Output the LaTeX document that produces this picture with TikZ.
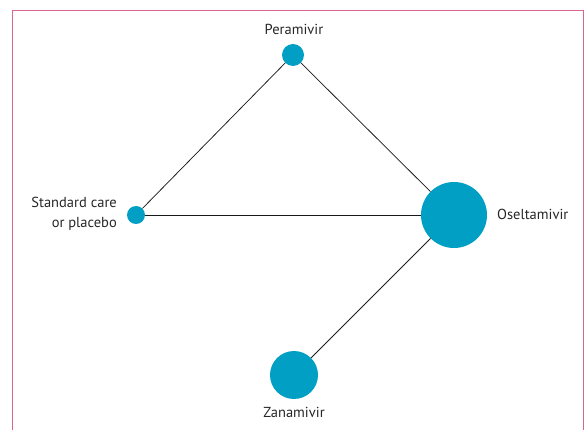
\documentclass[tikz,border=0pt]{standalone}
\usepackage{fontspec}
\setmainfont{PT Sans}
\definecolor{nodeblue}{HTML}{009FC3}
\definecolor{framepink}{HTML}{D8668E}
\begin{document}
\begin{tikzpicture}[x=1pt,y=-1pt,
  dot/.style={circle,fill=nodeblue,draw=none,inner sep=0pt,minimum size=#1},
  lbl/.style={font=\fontsize{14.5}{20}\selectfont,text=black!85,inner sep=0pt},
  edge/.style={draw=black!90,line width=0.75pt}]
\useasboundingbox (0,0) rectangle (587,430);
\draw[framepink,line width=1.4pt] (12.7,432) -- (12.7,10.5) -- (583.7,10.5) -- (583.7,432);
\node[dot=22pt] (per) at (293,55) {};
\node[dot=18pt] (std) at (136,215) {};
\node[dot=66pt] (ose) at (454,215) {};
\node[dot=48pt] (zan) at (294,375) {};
\draw[edge] (std) -- (per);
\draw[edge] (per) -- (ose);
\draw[edge] (std) -- (ose);
\draw[edge] (ose) -- (zan);
\node[lbl] (lper) at (294,29) {Peramivir};
\node[lbl,align=right,anchor=east] (lstd) at (117,214) {Standard care\\or placebo};
\node[lbl,anchor=west] (lose) at (497,214) {Oseltamivir};
\node[lbl] (lzan) at (294,412) {Zanamivir};
\end{tikzpicture}
\end{document}
